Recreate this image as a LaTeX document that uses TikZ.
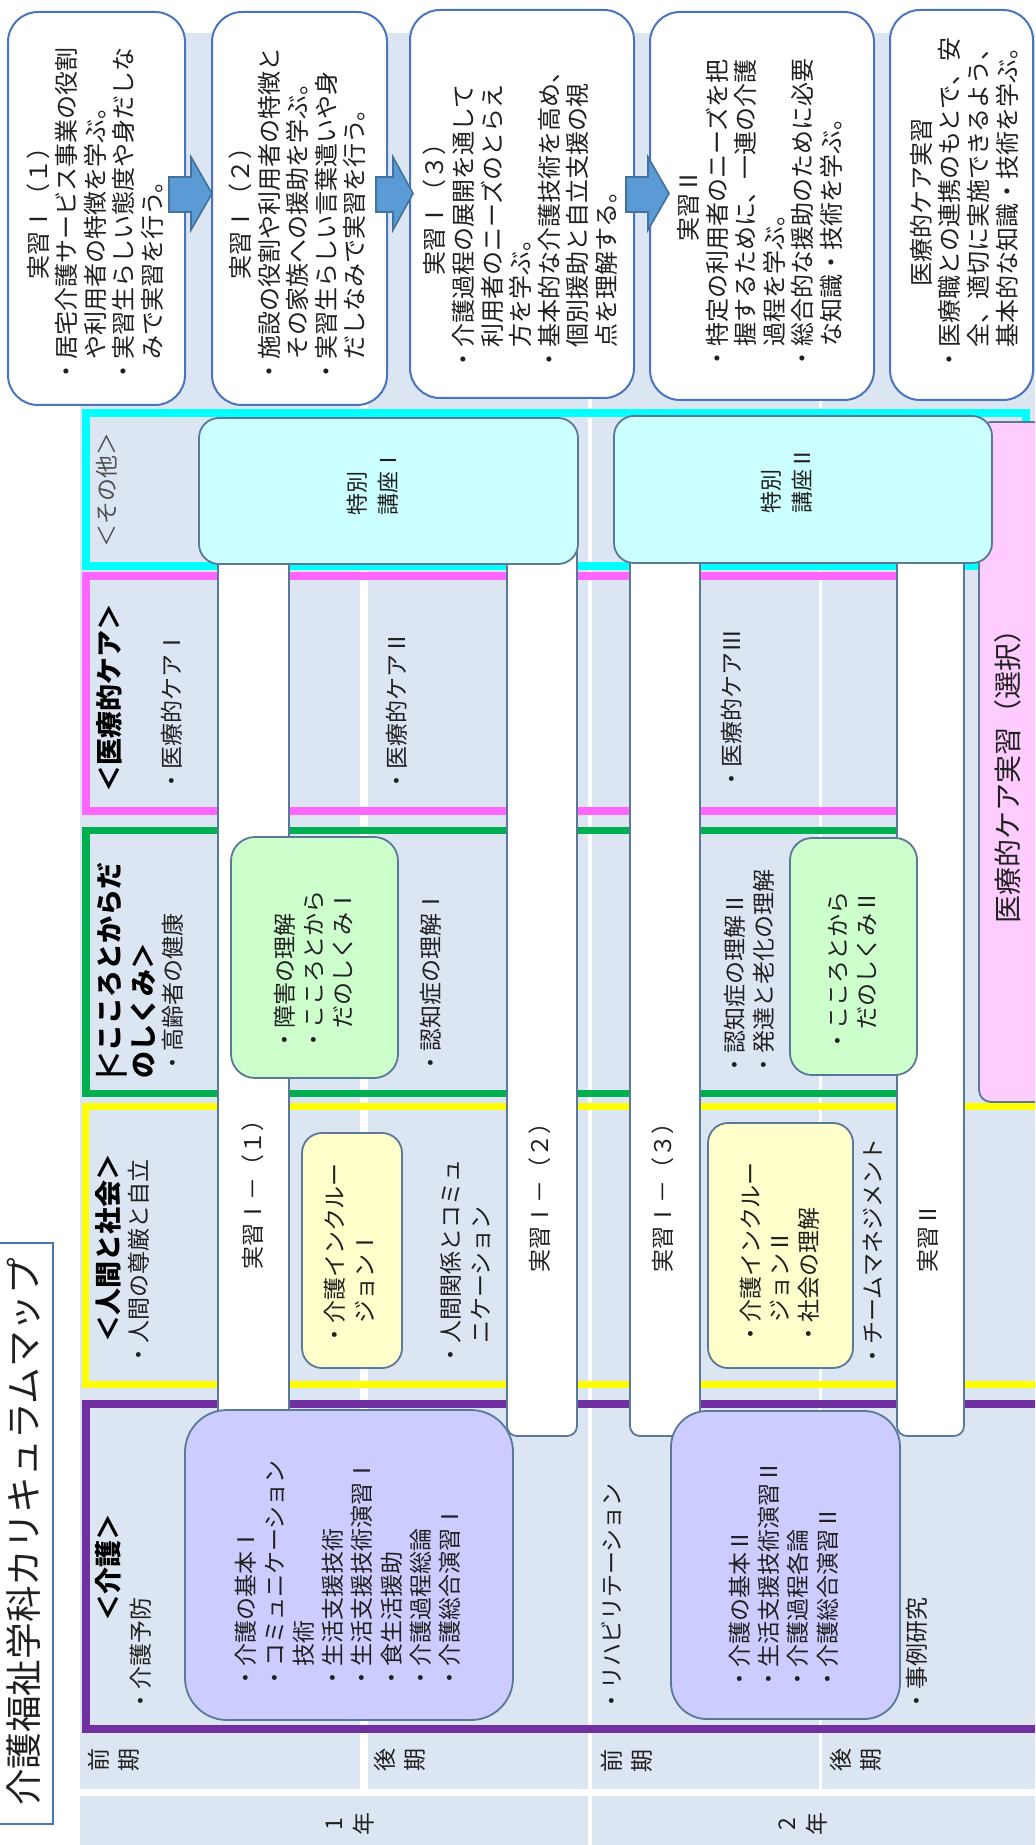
\documentclass[tikz,border=0pt]{standalone}
\usepackage{fontspec}
\setmainfont{Noto Sans CJK JP}
\definecolor{tbl}{HTML}{DCE6F2}
\definecolor{fcyan}{HTML}{00FFFF}
\definecolor{fmag}{HTML}{FF66FF}
\definecolor{fgreen}{HTML}{00B050}
\definecolor{fyellow}{HTML}{FFFF00}
\definecolor{fpurple}{HTML}{7030A0}
\definecolor{bcyan}{HTML}{CCFFFF}
\definecolor{bgreen}{HTML}{CCFFCC}
\definecolor{byellow}{HTML}{FFFFCC}
\definecolor{bpurple}{HTML}{CCCCFF}
\definecolor{bpink}{HTML}{FFCCFF}
\definecolor{edge}{HTML}{5A7898}
\definecolor{dedge}{HTML}{4A74C0}
\definecolor{arrfill}{HTML}{5B9BD5}
\definecolor{arredge}{HTML}{41719C}
\definecolor{txt}{HTML}{202020}
\definecolor{txtgray}{HTML}{505050}
\tikzset{
  frame/.style={line width=3.75pt},
  shp/.style={draw=edge, line width=0.9pt},
  dbox/.style={draw=dedge, line width=1pt, fill=white, rounded corners=15pt},
  blockarrow/.style={fill=arrfill, draw=arredge, line width=0.8pt},
  tt/.style={rotate=90, inner sep=0pt, anchor=west, align=left, text=txt, font=\fontsize{11.5}{14.6}\selectfont},
  dt/.style={rotate=90, inner sep=0pt, anchor=west, align=left, text=txt, font=\fontsize{12}{14.3}\selectfont},
  lab/.style={rotate=90, inner sep=0pt, anchor=west, align=left, text=black, font=\fontsize{13.5}{17}\selectfont\bfseries},
  per/.style={rotate=90, inner sep=0pt, anchor=center, align=center, text=txt, font=\fontsize{11.5}{15}\selectfont},
}
\begin{document}
\begin{tikzpicture}[x=0.5pt, y=-0.5pt]
\useasboundingbox (0,0) rectangle (1035,1845);
\clip (0,0) rectangle (1035,1845);

% table background and dividers
\fill[tbl] (80,33) rectangle (1035,1845);
\fill[white] (360,33) rectangle (368,1792);
\fill[white] (588,33) rectangle (592,1845);
\fill[white] (819,33) rectangle (822,1792);
\fill[white] (80,1789) rectangle (1035,1796);

% category frames
\draw[frame, draw=fcyan] (86,413) rectangle (1026,566);
\draw[frame, draw=fmag] (86,576) rectangle (926,811);
\draw[frame, draw=fgreen] (86,830.5) rectangle (926,1093.5);
\draw[frame, draw=fyellow] (85.5,1106.5) rectangle (1050,1384.5);
\draw[frame, draw=fpurple] (86,1404) rectangle (1050,1729);

% practicum bars
\draw[shp, fill=white, rounded corners=5pt] (218,480) rectangle (289,1436);
\draw[shp, fill=white, rounded corners=5pt] (507,480) rectangle (577,1436);
\draw[shp, fill=white, rounded corners=5pt] (630,480) rectangle (700,1436);
\draw[shp, fill=white, rounded corners=5pt] (897,480) rectangle (964,1436);

% boxes
\draw[shp, fill=bpink, rounded corners=6pt] (979,422) rectangle (1045,1102);
\draw[shp, fill=bcyan, rounded corners=10pt] (199,418) rectangle (578,564);
\draw[shp, fill=bcyan, rounded corners=10pt] (614,416) rectangle (992,563);
\draw[shp, fill=bgreen, rounded corners=12pt] (231,837) rectangle (398,1078);
\draw[shp, fill=bgreen, rounded corners=11pt] (790,838) rectangle (917,1075);
\draw[shp, fill=byellow, rounded corners=10pt] (302,1133) rectangle (402,1368);
\draw[shp, fill=byellow, rounded corners=10pt] (708,1123) rectangle (853,1368);
\draw[shp, fill=bpurple, rounded corners=21pt] (185,1410) rectangle (513,1720);
\draw[shp, fill=bpurple, rounded corners=18pt] (671,1411) rectangle (900,1719);

% description boxes
\draw[dbox] (8,12) rectangle (185,405);
\draw[dbox] (212,12) rectangle (387,405);
\draw[dbox] (410,10) rectangle (634,398);
\draw[dbox] (650,12) rectangle (874,400);
\draw[dbox] (890,10) rectangle (1033,400);

% block arrows
\draw[blockarrow] (169,177) -- (191,177) -- (191,157) -- (212,193.5) -- (191,230) -- (191,212) -- (169,212) -- cycle;
\draw[blockarrow] (376,177) -- (393,177) -- (393,157) -- (413,193.5) -- (393,230) -- (393,212) -- (376,212) -- cycle;
\draw[blockarrow] (626,177) -- (648,177) -- (648,157) -- (669,193.5) -- (648,230) -- (648,212) -- (626,212) -- cycle;

% description texts
\node[dt, text width=176pt] (d1) at (95,384) {\makebox[\linewidth]{実習Ⅰ（１）}\\・居宅介護サービス事業の役割\\　や利用者の特徴を学ぶ。\\・実習生らしい態度や身だしな\\　みで実習を行う。};
\node[dt, text width=176pt] (d2) at (297.5,384) {\makebox[\linewidth]{実習Ⅰ（２）}\\・施設の役割や利用者の特徴と\\　その家族への援助を学ぶ。\\・実習生らしい言葉遣いや身\\　だしなみで実習を行う。};
\node[dt, text width=168pt] (d3) at (520.5,372) {\makebox[\linewidth]{実習Ⅰ（３）}\\・介護過程の展開を通して\\　利用者のニーズのとらえ\\　方を学ぶ。\\・基本的な介護技術を高め、\\　個別援助と自立支援の視\\　点を理解する。};
\node[dt, text width=165pt] (d4) at (760,371) {\makebox[\linewidth]{実習Ⅱ}\\・特定の利用者のニーズを把\\　握するために、一連の介護\\　過程を学ぶ。\\・総合的な援助のために必要\\　な知識・技術を学ぶ。};
\node[dt, text width=169pt] (d5) at (964,372) {\makebox[\linewidth]{医療的ケア実習}\\・医療職との連携のもとで、安\\　全、適切に実施できるよう、\\　基本的な知識・技術を学ぶ。};

% special lectures
\node[tt, font=\fontsize{11}{15.5}\selectfont] (tk1) at (372.5,516) {特別\\講座Ⅰ};
\node[tt, font=\fontsize{11}{15.5}\selectfont] (tk2) at (787,514) {特別\\講座Ⅱ};
\node[tt, anchor=center, text=txtgray] (sonota) at (107,490) {＜その他＞};
\node[tt, font=\fontsize{14}{16}\selectfont] (pinkt) at (1008,924) {医療的ケア実習（選択）};

% medical care
\node[lab] (iryolab) at (109,793) {＜医療的ケア＞};
\node[tt] (iryo1) at (172,793) {・医療的ケアⅠ};
\node[tt] (iryo2) at (397,793) {・医療的ケアⅡ};
\node[tt] (iryo3) at (732,791) {・医療的ケアⅢ};

% mind and body
\node[lab] (kokorolab) at (126,1079) {\rlap{|}＜こころとからだ\\のしくみ＞};
\node[tt] (koreisha) at (173,1075) {・高齢者の健康};
\node[tt] (ninchi1) at (431,1075) {・認知症の理解Ⅰ};
\node[tt] (gbox1t) at (313.5,1052) {・障害の理解\\・こころとから\\　だのしくみⅠ};
\node[tt] (ninchi2) at (749.5,1077) {・認知症の理解Ⅱ\\・発達と老化の理解};
\node[tt] (gbox2t) at (852.5,1053) {・こころとから\\　だのしくみⅡ};

% human and society
\node[lab] (ningenlab) at (108,1343) {＜人間と社会＞};
\node[tt] (songen) at (139,1367) {・人間の尊厳と自立};
\node[tt] (kankei) at (465.5,1367) {・人間関係とコミュ\\　ニケーション};
\node[tt] (ybox1t) at (349.5,1347) {・介護インクルー\\　ジョンⅠ};
\node[tt] (ybox2t) at (779.5,1346) {・介護インクルー\\　ジョンⅡ\\・社会の理解};
\node[tt] (team) at (873,1368) {・チームマネジメント};

% practicum labels
\node[tt] (bar1t) at (253,1270) {実習Ⅰ－（１）};
\node[tt] (bar2t) at (540,1273) {実習Ⅰ－（２）};
\node[tt] (bar3t) at (663,1273) {実習Ⅰ－（３）};
\node[tt] (bar4t) at (928,1273) {実習Ⅱ};

% care
\node[lab] (kaigolab) at (108,1622) {＜介護＞};
\node[tt] (yobo) at (141,1713) {・介護予防};
\node[tt] (pbox1t) at (347.5,1690) {・介護の基本Ⅰ\\・コミュニケーション\\　技術\\・生活支援技術\\・生活支援技術演習Ⅰ\\・食生活援助\\・介護過程総論\\・介護総合演習Ⅰ};
\node[tt] (reha) at (612,1713) {・リハビリテーション};
\node[tt] (jirei) at (917,1713) {・事例研究};
\node[tt] (pbox2t) at (783.5,1691) {・介護の基本Ⅱ\\・生活支援技術演習Ⅱ\\・介護過程各論\\・介護総合演習Ⅱ};

% periods and years
\node[per] (zen1) at (114,1760) {前\\期};
\node[per] (kou1) at (399.5,1760) {後\\期};
\node[per] (zen2) at (627,1761) {前\\期};
\node[per] (kou2) at (856,1760) {後\\期};
\node[per] (nen1) at (350,1824) {1\\年};
\node[per] (nen2) at (803,1824) {2\\年};

% title
\draw[draw=dedge, line width=1.2pt, fill=white] (-5,1243) rectangle (53,1824);
\node[rotate=90, inner sep=0pt, text=txt, font=\fontsize{18.3}{20}\selectfont] (title) at (24,1532) {介護福祉学科カリキュラムマップ};
\end{tikzpicture}
\end{document}
